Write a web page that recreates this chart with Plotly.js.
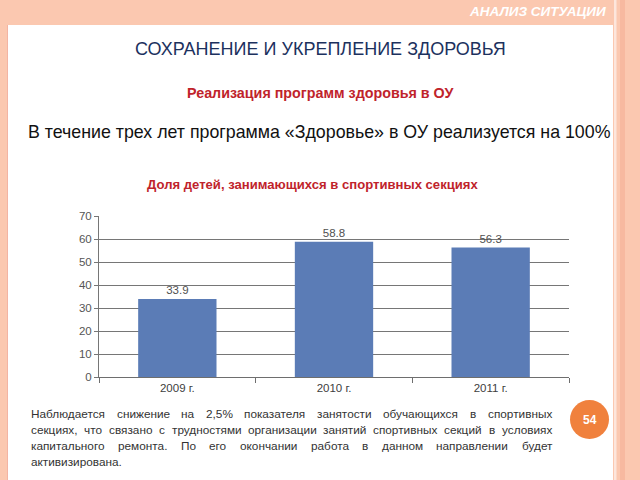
<!DOCTYPE html>
<html>
<head>
<meta charset="utf-8">
<script src="https://cdn.plot.ly/plotly-3.0.1.min.js"></script>
<style>html,body{margin:0;padding:0;background:#fbc8b0;}#chart{width:640px;height:480px;}</style>
</head>
<body>
<div id="chart"></div>
<script>
// ---- data ----
const categories = ['2009 г.', '2010 г.', '2011 г.'];
const shareValues = [33.9, 58.8, 56.3];
const yTickValues = [0, 10, 20, 30, 40, 50, 60, 70];

const headerText = 'АНАЛИЗ СИТУАЦИИ';
const titleText = 'СОХРАНЕНИЕ И УКРЕПЛЕНИЕ ЗДОРОВЬЯ';
const subTitle1 = 'Реализация программ здоровья в ОУ';
const statement = 'В течение трех лет программа «Здоровье» в ОУ реализуется на 100%';
const chartTitle = 'Доля детей, занимающихся в спортивных секциях';
const paragraphLines = [
  'Наблюдается снижение на 2,5% показателя занятости обучающихся в спортивных',
  'секциях, что связано с трудностями организации занятий спортивных секций в условиях',
  'капитального ремонта. По его окончании работа в данном направлении будет',
  'активизирована.'
];
const pageNumber = '54';

// ---- layout geometry (pixels) ----
const W = 640, H = 480;
const L = 99, R = 569, T = 216, B = 377;
const px = x => (x - L) / (R - L);
const py = y => (B - y) / (B - T);

const FONT = 'Liberation Sans, Arial, sans-serif';
const annotations = [];
function txt(text, x, y, size, color, opts) {
  opts = opts || {};
  annotations.push(Object.assign({
    text: text, xref: 'paper', yref: 'paper', x: px(x), y: py(y),
    xanchor: 'center', yanchor: 'middle', showarrow: false,
    font: {family: FONT, size: size, color: color}
  }, opts));
}

txt('<b><i>' + headerText + '</i></b>', 608, 11, 13.5, '#ffffff', {xanchor: 'right'});
txt(titleText, 320.5, 49, 18, '#1c315e');
txt('<b>' + subTitle1 + '</b>', 320, 93, 14.3, '#c0232b');
txt(statement, 319, 132, 17.8, '#111111');
txt('<b>' + chartTitle + '</b>', 312.5, 184, 13.1, '#c0232b');
txt('<b>' + pageNumber + '</b>', 589.5, 419.5, 12, '#ffffff');

// justified paragraph
const pSize = 11.8, pColor = '#333333', pLeft = 29, pRight = 550;
const cv = document.createElement('canvas').getContext('2d');
cv.font = pSize + 'px "Liberation Sans"';
paragraphLines.forEach((line, i) => {
  const y = 414 + i * 16;
  const last = i === paragraphLines.length - 1;
  if (last) {
    txt(line, pLeft, y, pSize, pColor, {xanchor: 'left'});
    return;
  }
  const words = line.split(' ');
  const widths = words.map(w => cv.measureText(w).width);
  const total = widths.reduce((a, b) => a + b, 0);
  const gap = (pRight - pLeft - total) / (words.length - 1);
  let x = pLeft;
  words.forEach((w, k) => {
    txt(w, x, y, pSize, pColor, {xanchor: 'left'});
    x += widths[k] + gap;
  });
});

const shapes = [
  // white panel
  {type: 'rect', xref: 'paper', yref: 'paper', x0: px(7), x1: px(613), y0: py(25), y1: py(482),
   fillcolor: '#ffffff', line: {width: 0}, layer: 'below'},
  {type: 'line', xref: 'paper', yref: 'paper', x0: px(7.5), x1: px(7.5), y0: py(25), y1: py(482),
   line: {color: '#f3b4a3', width: 1}, layer: 'below'},
  // right stripes
  {type: 'rect', xref: 'paper', yref: 'paper', x0: px(614), x1: px(616.5), y0: py(0), y1: py(480),
   fillcolor: '#fde6dc', line: {width: 0}, layer: 'below'},
  {type: 'rect', xref: 'paper', yref: 'paper', x0: px(620), x1: px(625), y0: py(0), y1: py(480),
   fillcolor: '#f7b9a0', line: {width: 0}, layer: 'below'},
  // page number circle
  {type: 'circle', xref: 'paper', yref: 'paper', x0: px(570), x1: px(609), y0: py(400), y1: py(439),
   fillcolor: '#f0813d', line: {width: 0}, layer: 'above'}
];

const trace = {
  type: 'bar', x: categories, y: shareValues,
  marker: {color: '#5b7cb6', line: {width: 0}},
  text: shareValues.map(v => v.toFixed(1)),
  textposition: 'outside', cliponaxis: false,
  textfont: {family: FONT, size: 11.5, color: '#505050'},
  hoverinfo: 'skip'
};

const layout = {
  width: W, height: H,
  margin: {l: L, r: W - R, t: T, b: H - B, pad: 0},
  paper_bgcolor: '#fbc8b0', plot_bgcolor: 'rgba(0,0,0,0)',
  showlegend: false, bargap: 0.5,
  font: {family: FONT},
  xaxis: {
    type: 'category', showgrid: false, showline: true, linecolor: '#6e6e6e', linewidth: 1,
    ticks: 'outside', tickson: 'boundaries', ticklen: 5, tickcolor: '#6e6e6e',
    tickfont: {family: FONT, size: 11.5, color: '#404040'}, fixedrange: true
  },
  yaxis: {
    range: [0, 70], tickvals: yTickValues, showgrid: true, gridcolor: '#767676', gridwidth: 1,
    showline: true, linecolor: '#767676', ticks: 'outside', ticklen: 4, tickcolor: '#767676',
    zeroline: false, tickfont: {family: FONT, size: 11.5, color: '#555555'}, fixedrange: true
  },
  shapes: shapes,
  annotations: annotations
};

Plotly.newPlot('chart', [trace], layout, {displayModeBar: false, staticPlot: true});
</script>
</body>
</html>
